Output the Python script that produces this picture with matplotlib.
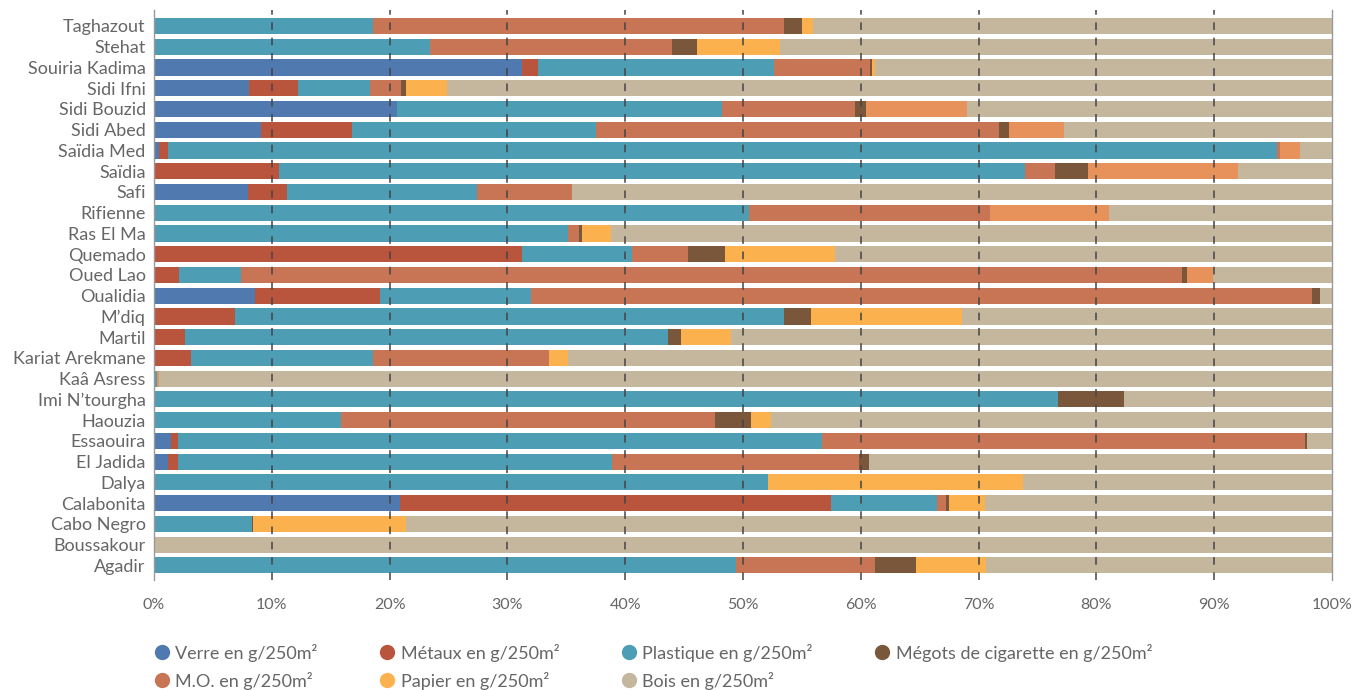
import numpy as np
import matplotlib
matplotlib.use("Agg")
import matplotlib.pyplot as plt
from matplotlib.lines import Line2D

plt.rcParams['font.family'] = ['Lato', 'DejaVu Sans']

# sites, top to bottom as in the chart
sites = ["Taghazout", "Stehat", "Souiria Kadima", "Sidi Ifni", "Sidi Bouzid", "Sidi Abed",
         "Saïdia Med", "Saïdia", "Safi", "Rifienne", "Ras El Ma", "Quemado", "Oued Lao",
         "Oualidia", "M’diq", "Martil", "Kariat Arekmane", "Kaâ Asress", "Imi N’tourgha",
         "Haouzia", "Essaouira", "El Jadida", "Dalya", "Calabonita", "Cabo Negro",
         "Boussakour", "Agadir"]

# share of each category in %
verre     = [0, 0, 31.2, 8.1, 20.6, 9.1, 0.4, 0, 8.0, 0, 0, 0, 0, 8.6, 0, 0, 0, 0, 0, 0, 1.4, 1.2, 0, 20.9, 0, 0, 0]
metaux    = [0, 0, 1.4, 4.1, 0, 7.7, 0.8, 10.6, 3.3, 0, 0, 31.2, 2.1, 10.6, 6.9, 2.6, 3.1, 0, 0, 0, 0.65, 0.85, 0, 36.55, 0, 0, 0]
plastique = [18.6, 23.4, 20.0, 6.1, 27.6, 20.7, 94.1, 63.3, 16.1, 50.5, 35.1, 9.4, 5.25, 12.8, 46.6, 41.0, 15.5, 0.25, 76.7, 15.9, 54.65, 36.85, 52.1, 9.05, 8.3, 0, 49.4]
mo        = [34.9, 20.6, 8.2, 2.65, 11.3, 34.2, 0.3, 2.6, 8.1, 20.5, 1.0, 4.7, 79.95, 66.3, 0, 0, 14.9, 0, 0, 31.7, 41.0, 20.9, 0, 0.7, 0, 0, 11.8]
megots    = [1.5, 2.1, 0.15, 0.45, 0.9, 0.9, 0, 2.8, 0, 0, 0.2, 3.2, 0.4, 0.7, 2.3, 1.1, 0, 0, 5.6, 3.1, 0.2, 0.9, 0, 0.3, 0.1, 0, 3.5]
papier    = [0.9, 7.0, 0.25, 3.5, 0, 0, 0, 0, 0, 0, 2.5, 9.3, 0, 0, 12.8, 4.3, 1.6, 0, 0, 1.7, 0, 0, 21.7, 3.0, 13.0, 0, 5.9]
autre     = [0, 0, 0, 0, 8.6, 4.6, 1.7, 12.7, 0, 10.1, 0, 0, 2.2, 0, 0, 0, 0, 0.2, 0, 0, 0, 0, 0, 0, 0, 0, 0]
bois      = [44.1, 46.9, 38.8, 75.1, 31.0, 22.8, 2.7, 8.0, 64.5, 18.9, 61.2, 42.2, 10.1, 1.0, 31.4, 51.0, 64.9, 99.55, 17.7, 47.6, 2.1, 39.3, 26.2, 29.5, 78.6, 100, 29.4]

series = [
    ("Verre en g/250m²", verre, "#5079AF"),
    ("Métaux en g/250m²", metaux, "#B9553C"),
    ("Plastique en g/250m²", plastique, "#4D9DB4"),
    ("M.O. en g/250m²", mo, "#C77555"),
    ("Mégots de cigarette en g/250m²", megots, "#7A573A"),
    ("Papier en g/250m²", papier, "#FBB24E"),
    (None, autre, "#E6925A"),
    ("Bois en g/250m²", bois, "#C5B79E"),
]

grey = "#666666"
fig = plt.figure(figsize=(13.55, 6.9), dpi=100)
ax = fig.add_axes([0.1137, 0.159, 0.8694, 0.8265])

y = np.arange(len(sites))[::-1]
left = np.zeros(len(sites))
for label, vals, col in series:
    vals = np.array(vals, dtype=float)
    ax.barh(y, vals, left=left, height=0.78, color=col, zorder=2)
    left += vals

for xv in range(10, 100, 10):
    ax.axvline(xv, color="#444444", lw=1.1, ls=(0, (5, 5)), zorder=3)

ax.set_xlim(0, 100)
ax.set_ylim(-0.72, len(sites) - 0.23)
ax.set_yticks(y)
ax.set_yticklabels(sites, fontsize=13, color=grey)
ax.set_xticks(range(0, 101, 10))
ax.set_xticklabels([f"{v}%" for v in range(0, 101, 10)], fontsize=11.5, color=grey)
ax.tick_params(length=0)
ax.tick_params(axis="y", pad=6)
ax.tick_params(axis="x", pad=13)
for s in ["top", "bottom"]:
    ax.spines[s].set_visible(False)
for s in ["left", "right"]:
    ax.spines[s].set_color("#999999")
    ax.spines[s].set_linewidth(1)

# legend, row-wise order as in the picture
order = [0, 3, 1, 5, 2, 7, 4]
handles = [Line2D([], [], marker="o", ls="", color=series[i][2], markersize=10) for i in order]
labels = [series[i][0] for i in order]
fig.legend(handles, labels, ncol=4, loc="center left", bbox_to_anchor=(0.108, 0.034),
           frameon=False, fontsize=13, labelcolor=grey, handletextpad=0.3,
           columnspacing=3.4, labelspacing=0.55, handlelength=0.9, borderaxespad=0)

fig.savefig("out.png", dpi=100)
